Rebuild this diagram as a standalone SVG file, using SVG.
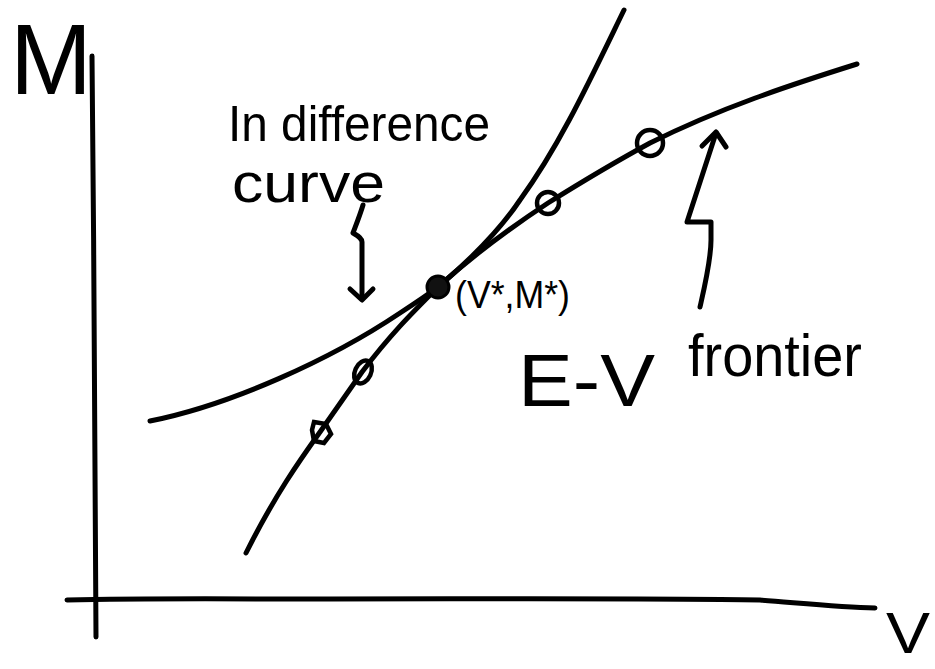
<svg xmlns="http://www.w3.org/2000/svg" width="935" height="669" viewBox="0 0 935 669">
<style>
.ln{fill:none;stroke:#000;stroke-width:5;stroke-linecap:round;stroke-linejoin:round}
.mk{fill:none;stroke:#000;stroke-width:4.5}
.t{font-family:"Liberation Sans","DejaVu Sans",sans-serif;fill:#000}
</style>
<rect width="935" height="669" fill="#fff"/>
<g id="axes">
<path class="ln" d="M92,56 C94,250 95,450 96,637"/>
<path class="ln" d="M67,600 C150,598 250,599 300,599 C500,599 650,598 760,600 C800,603 840,607 875,608"/>
<text class="t" x="10" y="94" font-size="100" textLength="82" lengthAdjust="spacingAndGlyphs">M</text>
<text class="t" x="886" y="653" font-size="58" textLength="44" lengthAdjust="spacingAndGlyphs">V</text>
</g>
<g id="frontier">
<path class="ln" d="M246,553 C275,495 300,460 320,432 L362,372 C390,335 410,315 438,287 C470,258 510,228 548,203 C580,183 615,162 650,143 C720,108 790,85 857,64"/>
</g>
<g id="indifference">
<path class="ln" d="M150,421 C230,405 330,360 400,313 C420,300 430,293 438,287 C470,260 500,230 520,200 C560,145 590,80 624,10"/>
</g>
<g id="points">
<polygon class="mk" points="314,422 326,424 331,434 324,443 314,441 312,430"/>
<ellipse class="mk" cx="363" cy="372" rx="8" ry="12" transform="rotate(25 363 372)"/>
<circle class="mk" cx="548" cy="203" r="11"/>
<circle class="mk" cx="650" cy="143" r="13"/>
</g>
<g id="optimum">
<circle cx="438" cy="287" r="11" fill="#111" stroke="#000" stroke-width="3"/>
<text class="t" x="455" y="308" font-size="38" textLength="115" lengthAdjust="spacingAndGlyphs">(V*,M*)</text>
</g>
<g id="label-indifference">
<text class="t" x="228" y="141" font-size="50" textLength="262" lengthAdjust="spacingAndGlyphs">In difference</text>
<text class="t" x="232" y="202" font-size="56" textLength="153" lengthAdjust="spacingAndGlyphs">curve</text>
</g>
<g id="label-frontier">
<text class="t" font-size="74"><tspan x="518" y="406" textLength="137" lengthAdjust="spacingAndGlyphs">E-V</tspan><tspan x="688" y="376" font-size="60" textLength="174" lengthAdjust="spacingAndGlyphs">frontier</tspan></text>
</g>
<g id="connectors">
<path class="ln" d="M363,205 C360,215 356,225 353,233 C358,236 362,238 362,242 C362,260 362,280 362,298"/>
<path class="ln" d="M350,289 L362,300 L373,289"/>
<path class="ln" d="M700,307 C705,285 711,260 711,240 L711,222 L687,222 L716,133"/>
<path class="ln" d="M702,146 L716,132 L726,147"/>
</g>
</svg>
